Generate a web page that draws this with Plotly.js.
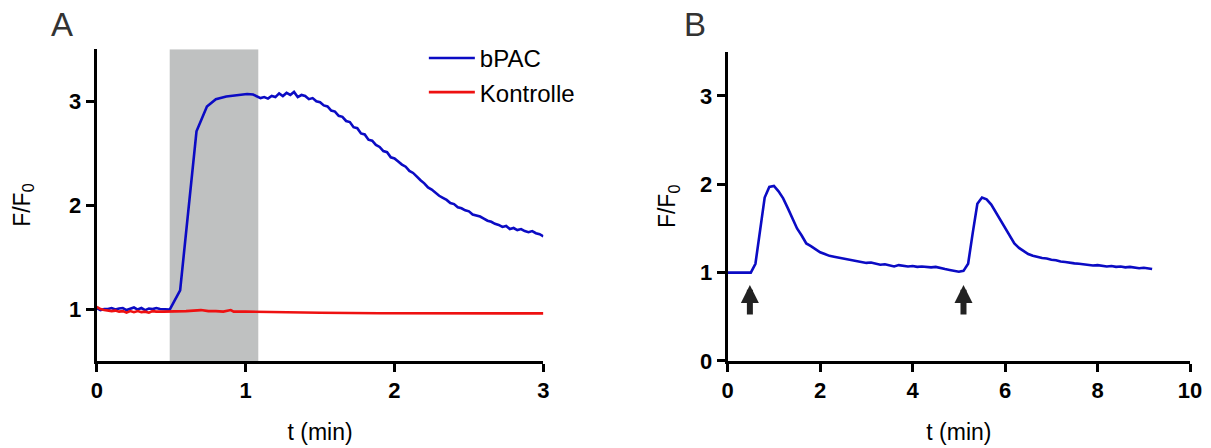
<!DOCTYPE html>
<html><head><meta charset="utf-8">
<script src="https://cdn.plot.ly/plotly-3.0.1.min.js"></script>
<style>html,body{margin:0;padding:0;background:#fff}#chart{width:1211px;height:448px}</style>
</head><body><div id="chart"></div>
<script>
// Panel A: bPAC
const tA_bpac = [0,0.025,0.05,0.075,0.1,0.125,0.15,0.175,0.2,0.225,0.25,0.275,0.3,0.325,0.35,0.375,0.4,0.425,0.45,0.475,0.49,
 0.56,0.67,0.74,0.80,0.87,0.94,1.01,1.05,1.08,
 1.1,1.125,1.15,1.175,1.2,1.225,1.25,1.275,1.3,1.325,1.35,1.375,1.4,1.425,1.45,1.475,1.5,1.525,1.55,1.575,1.6,1.625,1.65,1.675,1.7,1.725,1.75,1.775,1.8,1.825,1.85,1.875,1.9,1.925,1.95,1.975,2.0,2.025,2.05,2.075,2.1,2.125,2.15,2.175,2.2,2.225,2.25,2.275,2.3,2.325,2.35,2.375,2.4,2.425,2.45,2.475,2.5,2.525,2.55,2.575,2.6,2.625,2.65,2.675,2.7,2.725,2.75,2.775,2.8,2.825,2.85,2.875,2.9,2.925,2.95,2.975,3.0];
const yA_bpac = [1.01,0.99,1.0,1.0,1.01,0.995,1.005,1.01,0.99,1.0,1.015,0.995,1.01,0.99,1.005,1.0,1.01,1.0,1.0,0.995,0.995,
 1.18,2.71,2.95,3.02,3.045,3.06,3.07,3.065,3.04,
 3.03,3.04,3.025,3.05,3.04,3.075,3.05,3.08,3.06,3.09,3.04,3.06,3.05,3.02,3.03,3.0,2.99,2.96,2.95,2.91,2.90,2.86,2.85,2.81,2.80,2.75,2.74,2.69,2.68,2.63,2.62,2.58,2.56,2.52,2.51,2.46,2.45,2.42,2.39,2.37,2.33,2.31,2.27,2.24,2.21,2.17,2.15,2.12,2.09,2.07,2.05,2.02,2.01,1.98,1.97,1.95,1.94,1.91,1.90,1.89,1.87,1.85,1.84,1.82,1.81,1.79,1.80,1.77,1.78,1.76,1.77,1.75,1.74,1.75,1.73,1.72,1.70];
// Panel A: Kontrolle
const tA_ctrl = [0,0.025,0.05,0.075,0.1,0.125,0.15,0.175,0.2,0.225,0.25,0.275,0.3,0.325,0.35,0.375,0.4,0.45,0.5,0.6,0.7,0.75,0.8,0.85,0.9,0.92,1.0,1.2,1.5,1.9,2.2,2.6,3.0];
const yA_ctrl = [1.02,1.0,0.99,0.985,0.98,0.985,0.975,0.98,0.965,0.98,0.97,0.98,0.97,0.975,0.965,0.98,0.975,0.975,0.975,0.98,0.99,0.98,0.98,0.975,0.99,0.975,0.975,0.97,0.965,0.96,0.96,0.962,0.958];
// Light period (grey band)
const lightA = [0.49, 1.085];
// Panel B
const tB = [0,0.1,0.2,0.3,0.4,0.5,0.6,0.7,0.8,0.9,1.0,1.1,1.2,1.3,1.4,1.5,1.6,1.7,1.8,1.9,2.0,2.1,2.2,2.3,2.4,2.5,2.6,2.7,2.8,2.9,3.0,3.1,3.2,3.3,3.4,3.5,3.6,3.7,3.8,3.9,4.0,4.1,4.2,4.3,4.4,4.5,4.6,4.7,4.8,4.9,5.0,5.1,5.2,5.3,5.4,5.5,5.6,5.7,5.8,5.9,6.0,6.1,6.2,6.3,6.4,6.5,6.6,6.7,6.8,6.9,7.0,7.1,7.2,7.3,7.4,7.5,7.6,7.7,7.8,7.9,8.0,8.1,8.2,8.3,8.4,8.5,8.6,8.7,8.8,8.9,9.0,9.1,9.18];
const yB = [1.0,1.0,0.995,1.0,0.995,1.0,1.1,1.45,1.85,1.97,1.98,1.92,1.84,1.73,1.62,1.50,1.42,1.33,1.30,1.26,1.23,1.21,1.19,1.18,1.17,1.16,1.15,1.145,1.13,1.125,1.11,1.115,1.10,1.09,1.095,1.085,1.07,1.085,1.075,1.07,1.075,1.065,1.07,1.065,1.06,1.065,1.05,1.04,1.03,1.02,1.01,1.02,1.1,1.45,1.78,1.85,1.83,1.77,1.68,1.59,1.50,1.42,1.33,1.28,1.24,1.21,1.19,1.175,1.165,1.16,1.145,1.14,1.125,1.12,1.11,1.105,1.10,1.095,1.09,1.08,1.085,1.075,1.07,1.075,1.065,1.07,1.06,1.065,1.055,1.05,1.055,1.045,1.04];
// Stimulus arrows (t)
const arrowsB = [0.48, 5.1];

const BLUE = '#0b0bc4', RED = '#ee1111';
const FONT = 'Liberation Sans, Arial, sans-serif';

const traces = [
  {x: tA_bpac, y: yA_bpac, xaxis:'x', yaxis:'y', mode:'lines', name:'bPAC', legendgroup:'g1',
   line:{color:BLUE, width:2.6}},
  {x: tA_ctrl, y: yA_ctrl, xaxis:'x', yaxis:'y', mode:'lines', name:'Kontrolle', legendgroup:'g2',
   line:{color:RED, width:2.6}},
  {x: tB, y: yB, xaxis:'x2', yaxis:'y2', mode:'lines', showlegend:false,
   line:{color:BLUE, width:2.6}}
];

const axCommon = {
  showline:true, linecolor:'#000', linewidth:3, ticks:'outside', ticklen:8, tickwidth:3, tickcolor:'#000',
  showgrid:false, zeroline:false, fixedrange:true,
  tickfont:{family:FONT, size:22, color:'#000', weight:'bold'}
};
const titleFont = {family:FONT, size:23, color:'#000'};

const layout = {
  width:1211, height:448, margin:{l:0,r:0,t:0,b:0},
  paper_bgcolor:'#fff', plot_bgcolor:'rgba(0,0,0,0)',
  font:{family:FONT, color:'#000'},
  showlegend:true,
  legend:{x:0.350, y:0.92, xanchor:'left', yanchor:'top', bgcolor:'rgba(0,0,0,0)', itemwidth:46,
          font:{family:FONT, size:24, color:'#000'}, tracegroupgap:0},
  xaxis: Object.assign({}, axCommon, {domain:[0.0799,0.4487], range:[0,3], tickvals:[0,1,2,3], anchor:'y',
          title:{text:'t (min)', standoff:22, font:titleFont}}),
  yaxis: Object.assign({}, axCommon, {domain:[0.1942,0.89], range:[0.5,3.5], tickvals:[1,2,3], anchor:'x',
          title:{text:'F/F<sub>0</sub>', standoff:33, font:titleFont}}),
  xaxis2: Object.assign({}, axCommon, {domain:[0.6009,0.9827], range:[0,10], tickvals:[0,2,4,6,8,10], anchor:'y2',
          title:{text:'t (min)', standoff:22, font:titleFont}}),
  yaxis2: Object.assign({}, axCommon, {domain:[0.1942,0.8846], range:[0,3.5], tickvals:[0,1,2,3], anchor:'x2',
          title:{text:'F/F<sub>0</sub>', standoff:18, font:titleFont}}),
  shapes:[
    {type:'rect', xref:'x', yref:'y', x0:lightA[0], x1:lightA[1], y0:0.5, y1:3.5,
     fillcolor:'#bfc1c1', line:{width:0}, layer:'below'}
  ],
  annotations:[
    {text:'A', xref:'paper', yref:'paper', x:62/1211, y:1-25/448, xanchor:'center', yanchor:'middle',
     showarrow:false, font:{family:FONT, size:33, color:'#333'}},
    {text:'B', xref:'paper', yref:'paper', x:695/1211, y:1-25/448, xanchor:'center', yanchor:'middle',
     showarrow:false, font:{family:FONT, size:33, color:'#333'}}
  ].concat(arrowsB.map(t => ({
     text:'', xref:'x2', yref:'y2', x:t, y:0.86, axref:'x2', ayref:'y2', ax:t, ay:0.51,
     showarrow:true, arrowhead:2, arrowsize:0.6, arrowwidth:6, arrowcolor:'#222'
  })))
};

Plotly.newPlot('chart', traces, layout, {displayModeBar:false, staticPlot:true});
</script></body></html>
